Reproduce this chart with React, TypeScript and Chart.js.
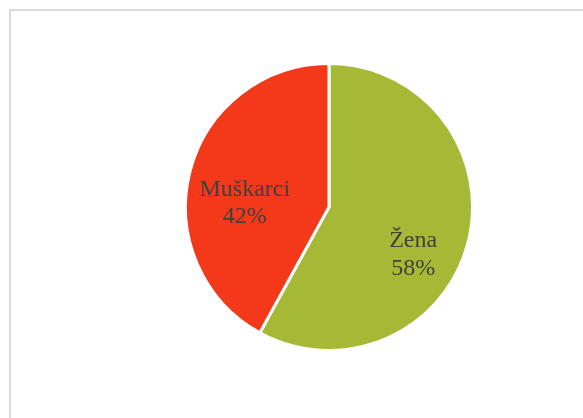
import React, { useEffect, useRef } from "react";
import { Chart, registerables } from "chart.js";

Chart.register(...registerables);

const categories = ["Žena", "Muškarci"];
const values = [58, 42];
const percentLabels = ["58%", "42%"];
const colors = ["#A6B936", "#F4381A"];

// label placement: fraction of radius and angle offset (deg) from slice mid-angle
const labelRadiusFrac = [0.65, 0.592];
const labelAngleOffset = [11.1, -6.9];

const labelPlugin = {
  id: "pieLabels",
  afterDatasetsDraw(chart: any) {
    const ctx = chart.ctx;
    const meta = chart.getDatasetMeta(0);
    ctx.save();
    ctx.font = '24px "Liberation Serif", "Times New Roman", serif';
    ctx.fillStyle = "#404040";
    ctx.textAlign = "center";
    ctx.textBaseline = "alphabetic";
    meta.data.forEach((arc: any, i: number) => {
      const { x, y, startAngle, endAngle, outerRadius } = arc.getProps(
        ["x", "y", "startAngle", "endAngle", "outerRadius"],
        true
      );
      const mid = (startAngle + endAngle) / 2 + (labelAngleOffset[i] * Math.PI) / 180;
      const r = outerRadius * labelRadiusFrac[i];
      const lx = x + Math.cos(mid) * r;
      const ly = y + Math.sin(mid) * r;
      ctx.fillText(categories[i], lx, ly);
      ctx.fillText(percentLabels[i], lx, ly + 27.5);
    });
    ctx.restore();
  },
};

export default function App() {
  const ref = useRef<HTMLCanvasElement | null>(null);
  useEffect(() => {
    if (!ref.current) return;
    const chart = new Chart(ref.current, {
      type: "pie",
      data: {
        labels: categories,
        datasets: [
          {
            data: values,
            backgroundColor: colors,
            borderColor: "#ffffff",
            borderWidth: 3,
          },
        ],
      },
      options: {
        responsive: false,
        animation: false,
        events: [],
        layout: { padding: { left: 184, right: 109, top: 62, bottom: 66 } },
        plugins: {
          legend: { display: false },
          tooltip: { enabled: false },
        },
      },
      plugins: [labelPlugin],
    });
    return () => chart.destroy();
  }, []);

  return (
    <div
      style={{
        position: "fixed",
        left: 0,
        top: 0,
        width: 583,
        height: 418,
        overflow: "hidden",
        background: "#ffffff",
      }}
    >
      <div
        style={{
          position: "absolute",
          left: 9,
          top: 9,
          width: 600,
          height: 440,
          border: "2px solid #d9d9d9",
          boxSizing: "border-box",
        }}
      />
      <canvas
        ref={ref}
        width={583}
        height={418}
        style={{ position: "absolute", left: 0, top: 0, width: 583, height: 418 }}
      />
    </div>
  );
}
